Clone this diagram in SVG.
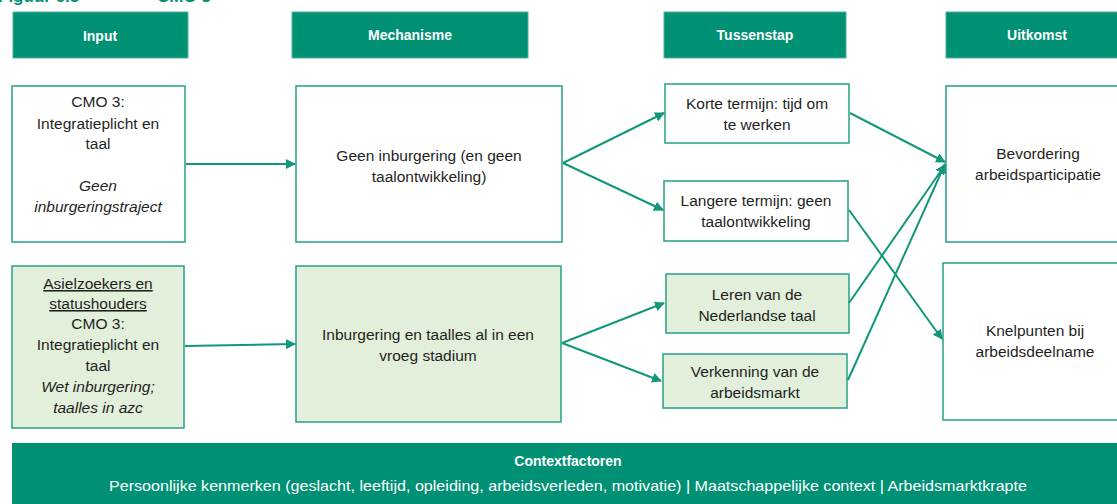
<svg xmlns="http://www.w3.org/2000/svg" width="1117" height="504" viewBox="0 0 1117 504">
<defs>
<style>
.hdr{fill:#009175;stroke:#4fb39a;stroke-width:1}
.hdrt{font-family:"Liberation Sans",Arial,sans-serif;font-size:14px;font-weight:bold;fill:#ffffff;text-anchor:middle}
.box{fill:#ffffff;stroke:#26a083;stroke-width:1.5}
.gbox{fill:#e2efda;stroke:#26a083;stroke-width:1.5}
.t{font-family:"Liberation Sans",Arial,sans-serif;font-size:15.5px;fill:#1f1f1f;text-anchor:middle}
.i{font-style:italic}
.u{text-decoration:underline}
.con{stroke:#13977b;stroke-width:2;fill:none;marker-end:url(#ah)}
.title{font-family:"Liberation Sans",Arial,sans-serif;font-size:17px;font-weight:bold;fill:#009175}
</style>
<marker id="ah" viewBox="0 0 10 10" refX="9" refY="5" markerWidth="5" markerHeight="5" orient="auto" markerUnits="strokeWidth">
<path d="M0,0 L10,5 L0,10 z" fill="#13977b"/>
</marker>
</defs>
<rect width="1117" height="504" fill="#ffffff"/>
<g id="title">
<text class="title" x="-2" y="2">Figuur 6.5</text>
<text class="title" x="157" y="2">CMO 3</text>
</g>
<g id="h-input"><rect class="hdr" x="13" y="12" width="175" height="46"/><text class="hdrt" x="100" y="41">Input</text></g>
<g id="h-mech"><rect class="hdr" x="292" y="12" width="236" height="46"/><text class="hdrt" x="410" y="40">Mechanisme</text></g>
<g id="h-tussen"><rect class="hdr" x="664" y="12" width="182" height="46"/><text class="hdrt" x="755" y="40">Tussenstap</text></g>
<g id="h-uitkomst"><rect class="hdr" x="946" y="12" width="175" height="46"/><text class="hdrt" x="1037" y="40">Uitkomst</text></g>

<g id="input1"><rect class="box" x="12" y="86" width="173" height="156"/>
<text class="t" x="98" y="107">CMO 3:</text>
<text class="t" x="98" y="129">Integratieplicht en</text>
<text class="t" x="98" y="149">taal</text>
<text class="t i" x="98" y="191">Geen</text>
<text class="t i" x="98" y="212">inburgeringstraject</text>
</g>
<g id="mech1"><rect class="box" x="296" y="86" width="266" height="156"/>
<text class="t" x="429" y="161">Geen inburgering (en geen</text>
<text class="t" x="429" y="182">taalontwikkeling)</text>
</g>
<g id="tussen1"><rect class="box" x="665" y="84" width="184" height="59"/>
<text class="t" x="757" y="109">Korte termijn: tijd om</text>
<text class="t" x="757" y="130">te werken</text>
</g>
<g id="tussen2"><rect class="box" x="664" y="181" width="184" height="60"/>
<text class="t" x="756" y="206">Langere termijn: geen</text>
<text class="t" x="756" y="227">taalontwikkeling</text>
</g>
<g id="uitkomst1"><rect class="box" x="946" y="86" width="180" height="156"/>
<text class="t" x="1038" y="159">Bevordering</text>
<text class="t" x="1038" y="180">arbeidsparticipatie</text>
</g>

<g id="input2"><rect class="gbox" x="12" y="266" width="172" height="162"/>
<text class="t u" x="98" y="289">Asielzoekers en</text>
<text class="t u" x="98" y="309">statushouders</text>
<text class="t" x="98" y="329">CMO 3:</text>
<text class="t" x="98" y="350">Integratieplicht en</text>
<text class="t" x="98" y="371">taal</text>
<text class="t i" x="98" y="392">Wet inburgering;</text>
<text class="t i" x="98" y="413">taalles in azc</text>
</g>
<g id="mech2"><rect class="gbox" x="296" y="266" width="265" height="156"/>
<text class="t" x="428" y="340">Inburgering en taalles al in een</text>
<text class="t" x="428" y="361">vroeg stadium</text>
</g>
<g id="tussen3"><rect class="gbox" x="666" y="274" width="183" height="59"/>
<text class="t" x="757" y="300">Leren van de</text>
<text class="t" x="757" y="321">Nederlandse taal</text>
</g>
<g id="tussen4"><rect class="gbox" x="663" y="354" width="184" height="54"/>
<text class="t" x="755" y="377">Verkenning van de</text>
<text class="t" x="755" y="398">arbeidsmarkt</text>
</g>
<g id="uitkomst2"><rect class="box" x="943" y="263" width="180" height="157"/>
<text class="t" x="1035" y="336">Knelpunten bij</text>
<text class="t" x="1035" y="357">arbeidsdeelname</text>
</g>

<g id="context"><rect x="12" y="443" width="1110" height="65" fill="#009175"/>
<text class="hdrt" x="568" y="466">Contextfactoren</text>
<text x="568" y="491" font-family="'Liberation Sans',Arial,sans-serif" font-size="14px" fill="#ffffff" text-anchor="middle" textLength="918" lengthAdjust="spacingAndGlyphs">Persoonlijke kenmerken (geslacht, leeftijd, opleiding, arbeidsverleden, motivatie) | Maatschappelijke context | Arbeidsmarktkrapte</text>
</g>

<g id="connectors">
<line class="con" x1="186" y1="164" x2="295" y2="164"/>
<line class="con" x1="185" y1="346" x2="295" y2="344"/>
<line class="con" x1="563" y1="163" x2="664" y2="113"/>
<line class="con" x1="563" y1="163" x2="663" y2="210"/>
<line class="con" x1="562" y1="343" x2="664" y2="303"/>
<line class="con" x1="562" y1="343" x2="661" y2="381"/>
<line class="con" x1="850" y1="113" x2="945" y2="162"/>
<line class="con" x1="849" y1="210" x2="942" y2="339"/>
<line class="con" x1="849" y1="303" x2="945" y2="165"/>
<line class="con" x1="848" y1="380" x2="945" y2="164"/>
</g>
</svg>
